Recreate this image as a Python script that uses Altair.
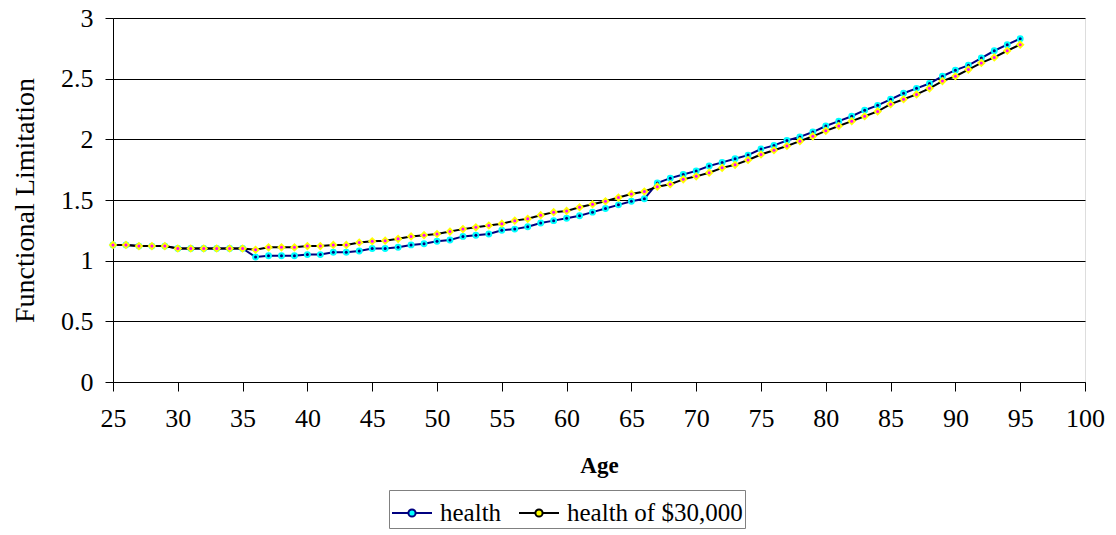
import altair as alt
import pandas as pd

# Age in years, one observation per year
ages = list(range(25, 96))

# Functional limitation score by age
health = [
    1.13, 1.13, 1.12, 1.12, 1.12, 1.10, 1.10, 1.10, 1.10, 1.10, 1.10,
    1.03, 1.04, 1.04, 1.04, 1.05, 1.05, 1.07, 1.07, 1.08, 1.10,
    1.10, 1.11, 1.13, 1.14, 1.16, 1.17, 1.20, 1.21, 1.22, 1.25,
    1.26, 1.28, 1.31, 1.33, 1.35, 1.37, 1.40, 1.43, 1.46, 1.49,
    1.51, 1.64, 1.68, 1.71, 1.74, 1.78, 1.81, 1.84, 1.87, 1.92,
    1.95, 1.99, 2.02, 2.06, 2.11, 2.15, 2.19, 2.24, 2.28, 2.33,
    2.38, 2.42, 2.46, 2.52, 2.57, 2.61, 2.67, 2.73, 2.78, 2.83,
]
health_30k = [
    1.13, 1.13, 1.12, 1.12, 1.12, 1.10, 1.10, 1.10, 1.10, 1.10, 1.10,
    1.09, 1.11, 1.11, 1.11, 1.12, 1.12, 1.13, 1.13, 1.15, 1.16,
    1.165, 1.18, 1.20, 1.21, 1.22, 1.24, 1.26, 1.275, 1.29, 1.305,
    1.33, 1.345, 1.375, 1.40, 1.41, 1.44, 1.465, 1.49, 1.52, 1.55,
    1.57, 1.61, 1.63, 1.67, 1.695, 1.725, 1.765, 1.79, 1.83, 1.875,
    1.91, 1.945, 1.985, 2.025, 2.07, 2.11, 2.15, 2.19, 2.23, 2.29,
    2.33, 2.37, 2.42, 2.48, 2.52, 2.575, 2.63, 2.675, 2.73, 2.78,
]
series_names = ["health", "health of $30,000"]
line_colors = ["#000080", "#000000"]
outer_colors = ["#00FFFF", "#FFFF00"]
inner_colors = ["#000080", "#FF00FF"]
outer_shapes = ["circle", "diamond"]

x_ticks = list(range(25, 101, 5))
y_ticks = [0, 0.5, 1, 1.5, 2, 2.5, 3]

df = pd.DataFrame({
    "Age": ages + ages,
    "value": health + health_30k,
    "series": [series_names[0]] * len(ages) + [series_names[1]] * len(ages),
})

SERIF = "Liberation Serif"

x_enc = alt.X(
    "Age:Q",
    scale=alt.Scale(domain=[25, 100], nice=False),
    axis=alt.Axis(
        values=x_ticks, title="Age", grid=False, tickSize=9, labelPadding=14,
        labelFont=SERIF, labelFontSize=26, labelColor="black",
        titleFont="Liberation Sans Narrow", titleFontWeight="bold",
        titleFontSize=23, titlePadding=23, titleColor="black",
        domainColor="black", tickColor="black", labelFlush=False,
    ),
)
y_enc = alt.Y(
    "value:Q",
    scale=alt.Scale(domain=[0, 3], nice=False),
    axis=alt.Axis(
        values=y_ticks, format="~g", title="Functional Limitation", grid=True,
        gridColor="black", gridWidth=1, gridOpacity=1, tickSize=8,
        labelPadding=12, labelFont=SERIF, labelFontSize=26,
        labelColor="black", titleFont=SERIF, titleFontWeight="normal",
        titleFontSize=28, titlePadding=21, titleColor="black",
        domainColor="black", tickColor="black", labelFlush=False,
    ),
)

# legend glyph: a short line with a marker disc in the middle
legend_symbol = (
    "M-1,0L-0.18,0M0.18,0L1,0"
    "M-0.18,0A0.18,0.18,0,1,1,0.18,0A0.18,0.18,0,1,1,-0.18,0Z"
)


def make_legend():
    return alt.Legend(
        title=None, orient="none", direction="horizontal",
        legendX=276, legendY=472, symbolType=legend_symbol,
        symbolSize=1600, symbolStrokeWidth=2, symbolOpacity=1,
        labelFont=SERIF, labelFontSize=25, labelColor="black",
        labelOffset=7, columnPadding=13, padding=2,
        strokeColor="#808080", fillColor="white", labelLimit=400,
    )


stroke_enc = alt.Stroke(
    "series:N",
    scale=alt.Scale(domain=series_names, range=line_colors),
    legend=make_legend(),
)
fill_enc = alt.Fill(
    "series:N",
    scale=alt.Scale(domain=series_names, range=outer_colors),
    legend=make_legend(),
)

layers = []
for i, name in enumerate(series_names):
    sub = alt.Chart(df).transform_filter(alt.datum.series == name)
    line = sub.mark_line(strokeWidth=2).encode(x=x_enc, y=y_enc, stroke=stroke_enc)
    outer = sub.mark_point(
        shape=outer_shapes[i], filled=True, size=48 if i == 0 else 75,
        opacity=1, strokeWidth=0,
    ).encode(x="Age:Q", y="value:Q", fill=fill_enc)
    inner = sub.mark_point(
        shape="circle", filled=True, size=9, color=inner_colors[i], opacity=1,
    ).encode(x="Age:Q", y="value:Q")
    layers += [line, outer, inner]

chart = alt.layer(*layers).properties(
    width=972,
    height=364,
    autosize=alt.AutoSizeParams(type="none"),
    padding={"left": 113, "top": 18, "right": 31, "bottom": 153},
).configure_view(
    stroke="#808080", strokeWidth=2,
).configure(background="white")

chart.save("out.html", embed_options={"renderer": "svg", "actions": False})
